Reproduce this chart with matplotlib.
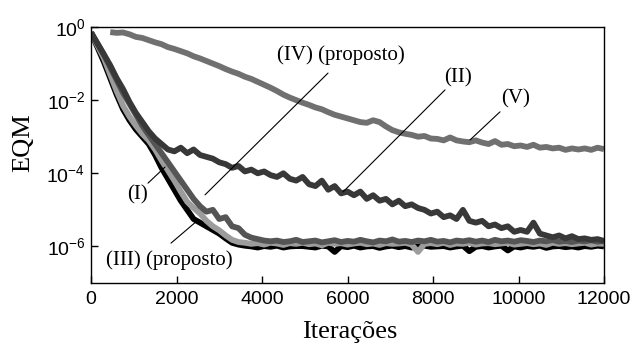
import numpy as np
import matplotlib
matplotlib.use('Agg')
import matplotlib.pyplot as plt
from matplotlib.ticker import NullLocator

nan = np.nan

# x grid (iterations) shared by every curve
iteracoes = np.arange(0, 12001, 150)

# log10(EQM), one value per 150 iterations
curva_V = [nan, nan, nan, -0.14, -0.16, -0.15, -0.2, -0.27, -0.3, -0.36,
           -0.42, -0.47, -0.55, -0.6, -0.66, -0.72, -0.8, -0.86, -0.93, -1.0,
           -1.07, -1.15, -1.22, -1.28, -1.36, -1.42, -1.5, -1.58, -1.66, -1.75,
           -1.85, -1.93, -2.0, -2.07, -2.13, -2.2, -2.25, -2.33, -2.4, -2.45,
           -2.5, -2.55, -2.6, -2.62, -2.55, -2.6, -2.72, -2.82, -2.88, -2.92,
           -2.95, -3.0, -2.98, -3.05, -3.06, -3.1, -3.02, -3.1, -3.13, -3.15,
           -3.1, -3.16, -3.2, -3.12, -3.22, -3.2, -3.26, -3.24, -3.28, -3.22,
           -3.3, -3.28, -3.32, -3.3, -3.36, -3.32, -3.35, -3.32, -3.36, -3.3,
           -3.34]

curva_II = [-0.15, -0.45, -0.75, -1.05, -1.4, -1.7, -2.05, -2.35, -2.6, -2.85,
            -3.05, -3.2, -3.35, -3.4, -3.3, -3.45, -3.35, -3.5, -3.55, -3.6,
            -3.7, -3.75, -3.85, -3.8, -3.95, -3.9, -4.0, -3.95, -4.05, -4.1,
            -4.0, -4.15, -4.2, -4.1, -4.3, -4.35, -4.2, -4.45, -4.35, -4.55,
            -4.5, -4.6, -4.5, -4.7, -4.6, -4.75, -4.7, -4.85, -4.75, -4.9,
            -4.85, -4.95, -5.0, -5.1, -5.05, -5.2, -5.15, -5.25, -5.0, -5.3,
            -5.35, -5.3, -5.45, -5.4, -5.5, -5.45, -5.6, -5.55, -5.6, -5.35,
            -5.65, -5.7, -5.75, -5.7, -5.78, -5.72, -5.8, -5.78, -5.82, -5.8,
            -5.85]

curva_I = [-0.15, -0.5, -0.85, -1.3, -1.75, -2.15, -2.45, -2.7, -2.92, -3.1,
           -3.35, -3.65, -3.92, -4.2, -4.5, -4.78, -4.95, -5.1, -5.3, -5.45,
           -5.56, -5.7, -5.82, -5.88,
           -5.9, -5.93, -5.91, -5.95, -5.9, -5.92, -5.96, -5.91, -5.93, -5.9,
           -5.94, -5.92, -5.97, -5.9, -5.93, -5.91, -5.95, -5.92, -5.9, -5.94,
           -5.92, -5.96, -5.91, -5.93, -5.92, -5.9, -5.95, -6.15, -5.93, -5.91,
           -5.94, -5.9, -5.96, -5.92, -5.93, -5.9, -5.95, -5.92, -5.91, -5.94,
           -5.92, -5.9, -5.95, -5.93, -5.91, -5.94, -5.92, -5.96, -5.9, -5.93,
           -5.91, -5.94, -5.92, -5.9, -5.95, -5.92, -5.93]

curva_III = [-0.15, -0.55, -0.95, -1.4, -1.85, -2.25, -2.55, -2.8, -3.0, -3.2,
             -3.5, -3.85, -4.15, -4.45, -4.75, -5.0, -5.25, -5.35, -5.45, -5.55,
             -5.65, -5.78, -5.9, -5.95,
             -5.98, -6.0, -6.03, -5.99, -6.01, -5.98, -6.03, -6.0, -5.99, -5.99,
             -6.01, -6.03, -5.98, -6.0, -6.15, -5.99, -6.02, -5.98, -6.03, -6.0,
             -5.99, -6.04, -6.0, -5.98, -6.02, -5.99, -6.03, -6.0, -5.98, -6.01,
             -6.0, -5.99, -6.03, -6.0, -5.98, -6.13, -6.01, -5.99, -6.03, -6.0,
             -5.98, -6.11, -6.0, -6.03, -5.99, -6.01, -5.98, -6.04, -6.0, -5.99,
             -6.02, -6.0, -6.03, -5.99, -6.01, -5.98, -6.0]

curva_IV = [-0.15, -0.45, -0.75, -1.1, -1.45, -1.8, -2.1, -2.4, -2.7, -2.95,
            -3.2, -3.45, -3.7, -3.95, -4.2, -4.45, -4.7, -4.9, -5.05, -5.0,
            -5.25, -5.2, -5.45, -5.5, -5.68, -5.76, -5.8, -5.84,
            -5.86, -5.84, -5.88, -5.86, -5.82, -5.88, -5.86, -5.84, -5.89, -5.86,
            -5.83, -5.88, -5.85, -5.87, -5.82, -5.86, -5.89, -5.84, -5.86, -5.81,
            -5.87, -5.85, -5.88, -5.84, -5.86, -5.82, -5.87, -5.85, -5.89, -5.84,
            -5.86, -5.83, -5.87, -5.84, -5.88, -5.82, -5.86, -5.84, -5.87, -5.83,
            -5.85, -5.88, -5.84, -5.86, -5.82, -5.87, -5.85, -5.88, -5.84, -5.86,
            -5.83, -5.87, -5.85]

# drawing order: bottom first
curvas = [(curva_III, '#000000'),
          (curva_I, '#9c9c9c'),
          (curva_IV, '#555555'),
          (curva_II, '#383838'),
          (curva_V, '#707070')]

x_ticks = [0, 2000, 4000, 6000, 8000, 10000, 12000]
y_ticks = [1e0, 1e-2, 1e-4, 1e-6]
y_ticklabels = [r'$\mathregular{10^{0}}$', r'$\mathregular{10^{-2}}$',
                r'$\mathregular{10^{-4}}$', r'$\mathregular{10^{-6}}$']

# labels: text, text position, leader line start, leader line end (data coords)
rotulos = [
    ('(IV) (proposto)', (5850, 10**-0.78), (5544, 10**-1.26), (2667, 10**-4.59)),
    ('(II)', (8585, 10**-1.39), (8281, 10**-1.72), (5895, 10**-4.51)),
    ('(V)', (9942, 10**-1.97), (9567, 10**-2.32), (8865, 10**-3.09)),
    ('(I)', (1099, 10**-4.59), (1333, 10**-4.27), (1731, 10**-3.83)),
    ('(III) (proposto)', (1825, 10**-6.37), (1871, 10**-5.91), (2503, 10**-5.28)),
]

plt.rcParams['font.family'] = ['Liberation Sans', 'DejaVu Sans']
plt.rcParams['mathtext.default'] = 'regular'

fig = plt.figure(figsize=(6.33, 3.47), dpi=100)
ax = fig.add_axes([91 / 633, 1 - 283 / 347, 513 / 633, 256 / 347])

for vals, cor in curvas:
    ax.plot(iteracoes, 10 ** np.array(vals), color=cor, lw=4.2,
            solid_capstyle='butt')

ax.set_yscale('log')
ax.set_xlim(0, 12000)
ax.set_ylim(1e-7, 1)
ax.set_xticks(x_ticks)
ax.set_xticklabels([str(t) for t in x_ticks])
ax.set_yticks(y_ticks)
ax.set_yticklabels(y_ticklabels)
ax.yaxis.set_minor_locator(NullLocator())
ax.tick_params(direction='in', length=5, width=1, labelsize=14,
               top=False, right=False)
ax.tick_params(axis='x', pad=6)
ax.tick_params(axis='y', pad=4)
for sp in ax.spines.values():
    sp.set_linewidth(1.0)

for texto, pos, p0, p1 in rotulos:
    ax.text(pos[0], pos[1], texto, family='Liberation Serif', fontsize=15,
            ha='center', va='center')
    ax.annotate('', xy=p1, xytext=p0,
                arrowprops=dict(arrowstyle='-', lw=0.8, color='black',
                                shrinkA=0, shrinkB=0))

fig.text(350 / 633, 1 - 338 / 347, 'Iterações', family='Liberation Serif',
         fontsize=19, ha='center', va='baseline')
fig.text(23 / 633, 1 - 143 / 347, 'EQM', family='Liberation Serif',
         fontsize=19, rotation=90, ha='center', va='center')

fig.savefig('out.png', dpi=100)
plt.close(fig)
